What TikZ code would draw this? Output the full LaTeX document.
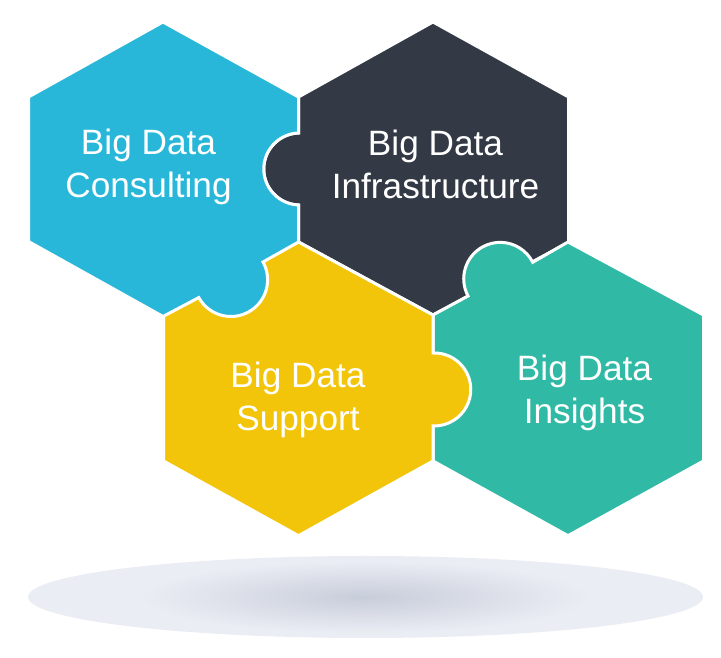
\documentclass[tikz,border=0pt]{standalone}
\usepackage{fontspec}
\setmainfont{Liberation Sans}
\definecolor{hexblue}{HTML}{28B7D9}
\definecolor{hexdark}{HTML}{333945}
\definecolor{hexyellow}{HTML}{F2C50A}
\definecolor{hexgreen}{HTML}{30BAA5}
\definecolor{shadowout}{HTML}{EBEDF4}
\definecolor{shadowin}{HTML}{C8CDDA}
\tikzset{
  piece/.style={draw=white,line width=3pt,line join=miter},
  hexlabel/.style={text=white,align=center,font=\fontsize{35.2}{43}\selectfont,inner sep=0pt}
}
\begin{document}
\begin{tikzpicture}[x=1pt,y=1pt]
\useasboundingbox (0,0) rectangle (721,658);
\fill[white] (0,0) rectangle (721,658);
% shadow
\fill[shadowout] (365.5,61) ellipse [x radius=337.5,y radius=41];
\shade[inner color=shadowin,outer color=shadowout] (365,61) ellipse [x radius=225,y radius=36];
% dark
\draw[piece,fill=hexdark] (298.5,561) -- (433,636) -- (568.5,561) -- (568.5,415.5) -- (433,343) -- (298.5,416) -- (298.5,453)
  arc[start angle=268,end angle=92,radius=36] -- cycle;
% green
\draw[piece,fill=hexgreen] (433,343) -- (468,362) arc[start angle=208,end angle=27,radius=36.5]
  -- (568,416) -- (703.5,343) -- (703.5,197) -- (568,122.3) -- (433,197) -- cycle;
% yellow
\draw[piece,fill=hexyellow] (298.5,416) -- (433,343) -- (433,305) arc[start angle=92,end angle=-92,radius=36.5]
  -- (433,197) -- (298.5,122.3) -- (163.5,197) -- (163.5,343) -- cycle;
% blue
\draw[piece,fill=hexblue] (163,636) -- (298.5,561) -- (298.5,525) arc[start angle=92,end angle=268,radius=36]
  -- (298.5,416) -- (263,396) arc[start angle=29,end angle=-151,radius=36.7]
  -- (163,341.5) -- (28.5,416.5) -- (28.5,561) -- cycle;
% labels
\node[hexlabel] (consulting) at (148.5,491) {Big Data\\Consulting};
\node[hexlabel] (infra) at (435.5,494) {Big Data\\Infrastructure};
\node[hexlabel] (support) at (298,258) {Big Data\\Support};
\node[hexlabel] (insights) at (584.5,265) {Big Data\\Insights};
\end{tikzpicture}
\end{document}
